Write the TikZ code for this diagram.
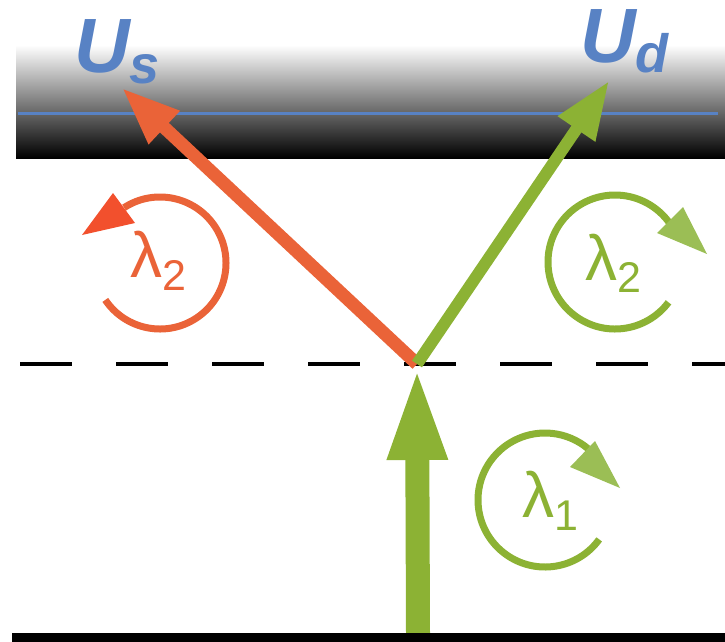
\documentclass[tikz,border=0pt]{standalone}
\usepackage{fontspec}
\setmainfont{Liberation Sans}
\usetikzlibrary{arrows.meta}

\definecolor{rayorange}{RGB}{234,99,56}
\definecolor{headorange}{RGB}{242,80,45}
\definecolor{raygreen}{RGB}{140,178,52}
\definecolor{headgreen}{RGB}{155,190,85}
\definecolor{surfblue}{RGB}{88,130,196}

\begin{document}
\begin{tikzpicture}[x=1pt, y=1pt,
    ray/.style={line width=13pt, -{Triangle[length=58pt,width=42pt]}},
    ring/.style={line width=7pt},
    surfname/.style={inner sep=0pt, anchor=base west, text=surfblue, font=\fontsize{77}{77}\selectfont\bfseries\itshape},
    lam/.style={inner sep=0pt, anchor=base west, font=\fontsize{64}{64}\selectfont}]

    \useasboundingbox (0,0) rectangle (725,-642);

    % interfaces
    \shade[top color=white, middle color=black!55, bottom color=black] (16,-45) rectangle (725,-158);
    \draw[surfblue, line width=3pt] (18,-113) -- (718,-113);
    \draw[line width=4pt, dash pattern=on 52pt off 44pt] (20,-364) -- (725,-364);

    \coordinate (src) at (418,-633);
    \coordinate (hit) at (417,-364);
    \coordinate (tipS) at (122,-88);
    \coordinate (tipD) at (609,-81);
    \coordinate (ctrS) at (160,-263);
    \coordinate (ctrD) at (615,-262);
    \coordinate (ctrI) at (545,-500);

    % rays
    \draw[ray, rayorange] (hit) -- (tipS);
    \draw[ray, raygreen, line width=12pt] (hit) -- (tipD);
    \draw[raygreen, line width=24pt, -{Triangle[length=96pt,width=53pt]}] (src) -- (hit);
    \fill (12,-633) rectangle (725,-642);

    % rotation senses
    \draw[ring, rayorange] (ctrS) ++(214:66) arc[start angle=214, end angle=483, radius=66];
    \fill[headorange] (82,-235) -- (113,-193) -- (135,-223) -- cycle;
    \draw[ring, raygreen] (ctrD) ++(-37:67) arc[start angle=-37, end angle=-324, radius=67];
    \fill[headgreen] (657,-233) -- (683,-207) -- (707,-254) -- cycle;
    \draw[ring, raygreen] (ctrI) ++(-36:67) arc[start angle=-36, end angle=-310, radius=67];
    \fill[headgreen] (570,-467) -- (595,-441) -- (620,-488) -- cycle;

    \node[lam, text=rayorange] (lamS) at (130,-277) {λ\raisebox{-13pt}{\fontsize{43}{43}\selectfont 2}};
    \node[lam, text=raygreen] (lamD) at (585,-280) {λ\raisebox{-12pt}{\fontsize{43}{43}\selectfont 2}};
    \node[lam, text=raygreen] (lamI) at (522,-517) {λ\raisebox{-13pt}{\fontsize{43}{43}\selectfont 1}};

    \node[surfname] (us) at (74,-72) {U\raisebox{-12pt}{\fontsize{54}{54}\selectfont s}};
    \node[surfname] (ud) at (580,-63) {U\raisebox{-10pt}{\fontsize{54}{54}\selectfont d}};
\end{tikzpicture}
\end{document}
